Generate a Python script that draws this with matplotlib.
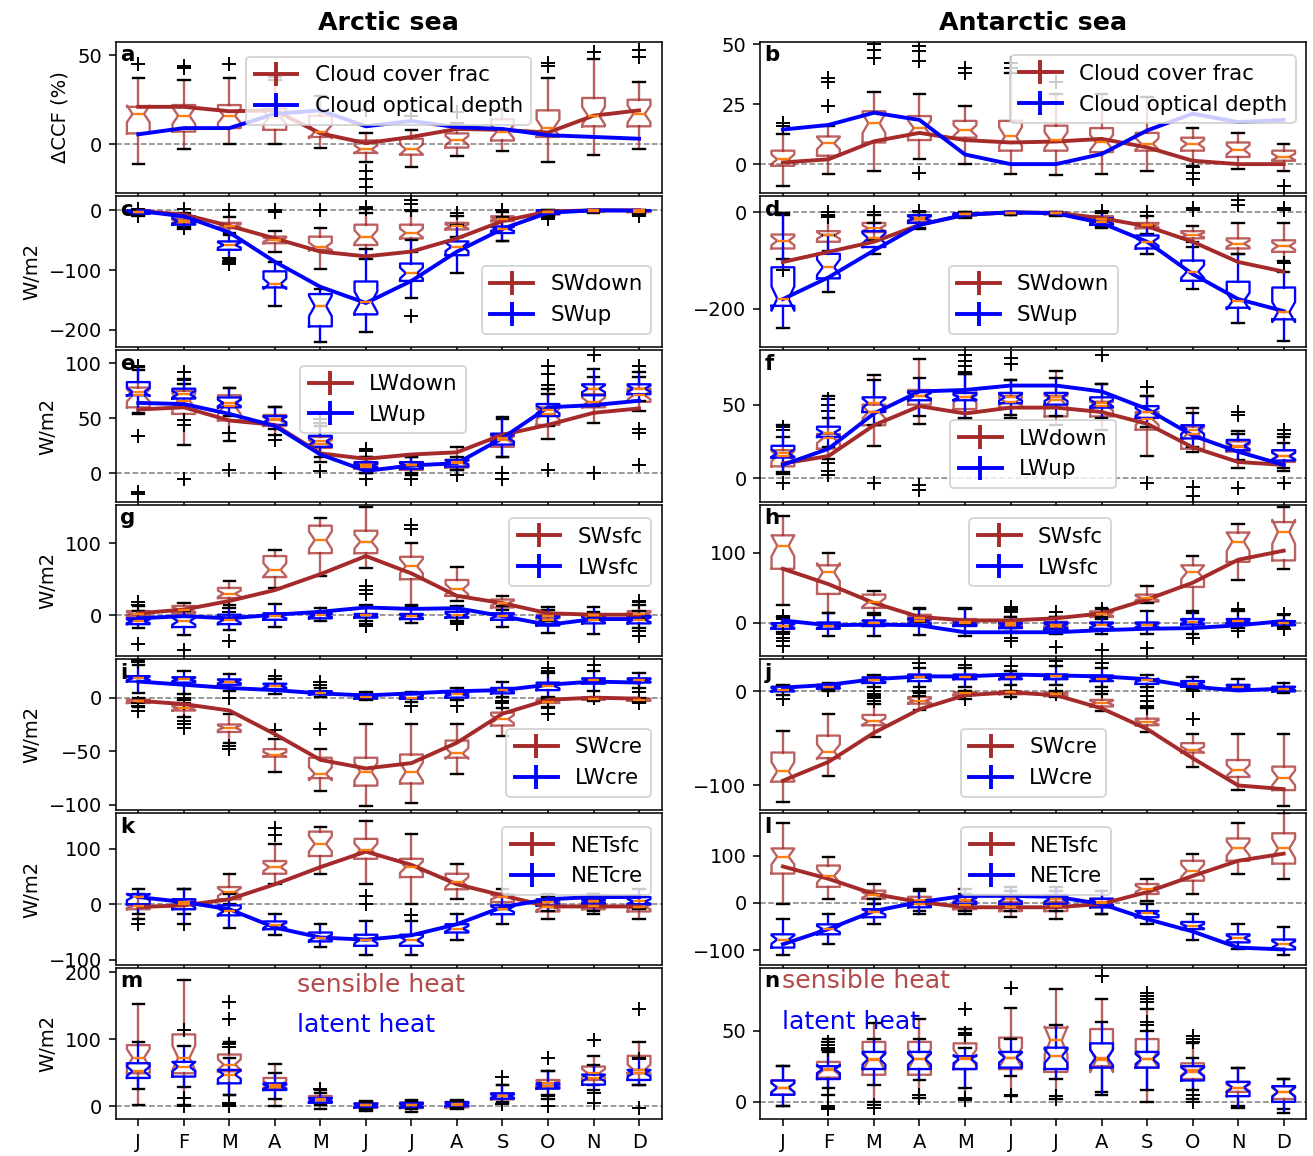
import numpy as np
import matplotlib.pyplot as plt
from matplotlib.lines import Line2D

months = ["J", "F", "M", "A", "M", "J", "J", "A", "S", "O", "N", "D"]
NOTCH_N = 25  # sample size assumed for notch width

# each box: (whisker low, q1, median, q3, whisker high)
a_red_box = [(-11, 6, 17, 21, 37), (-3, 7, 16, 22, 36), (0, 9, 16, 22, 37), (0, 8, 15, 20, 36),
             (-2, 4, 7, 16, 27), (-10, -5, -3, 2, 6), (-13, -6, -3, 3, 8), (-7, -2, 2, 6, 12),
             (-4, 2, 7, 14, 20), (-10, 4, 9, 19, 37), (-6, 10, 16, 26, 48), (-3, 10, 17, 25, 35)]
a_red_fl = [[45], [43, 44], [45], [38], [], [19, -15, -20, -24], [16], [18], [], [46, 44], [52], [53, 49]]
a_red_line = [21, 21, 18.5, 19, 6, 0.5, 4, 8.5, 8, 6.5, 16, 19]
a_blue_line = [5.5, 9, 9, 17, 19, 10, 13, 9.5, 8.5, 5, 4, 3]

b_red_box = [(-9, -0.7, 2, 5.6, 12.6), (-4, 3.5, 8.7, 11.5, 16), (-3, 9, 17, 22, 30), (2, 10, 15, 20, 29),
             (0, 11, 14, 18, 24), (-4, 5.6, 11.5, 18, 38), (-4.5, 5.6, 10, 16, 29), (-4, 5, 9, 15, 29),
             (-3, 5.6, 8.4, 13, 28), (-0.7, 5.6, 8.4, 11, 15), (-2, 3, 6, 9, 13), (-3, 1.4, 3, 5.6, 8.4)]
b_red_fl = [[16, 17], [24, 34, 36], [44, 47.5, 50], [-3.5, 43, 47, 49], [38, 40], [40, 42], [34], [], [],
            [-1.4, -3.5, -6.3], [], [-9]]
b_red_line = [0.7, 2, 9.5, 13, 10, 9, 9.4, 10.5, 7, 1.4, 0, 0]
b_blue_line = [14.4, 16.3, 21.4, 18.4, 4, 0, 0, 4.2, 14, 21, 17.5, 18.4]

c_red_box = [(-8, -4, -2, -1, 0), (-28, -22, -19, -14, -10), (-38, -30, -26, -21, -12), (-69, -55, -49, -44, -35),
             (-98, -66, -61, -44, -30), (-81, -58, -44, -24, -4), (-69, -47, -38, -24, -1), (-44, -32, -27, -21, -10),
             (-52, -18, -14, -10, -2), (-12, -7, -3, 0, 0), (-4, -2, -1, 0, 0), (-6, -3, -2, -1, 0)]
c_red_fl = [[-10, 3], [-30, 2], [-80, -85, 0], [0, -2], [0], [2, 5], [0, 10, 18], [-5], [0], [-15], [], [-10]]
c_blue_box = [(-10, -6, -3, 0, 0), (-32, -24, -18, -10, -4), (-81, -66, -58, -52, -41), (-160, -129, -123, -102, -86),
              (-220, -194, -160, -140, -132), (-203, -174, -153, -119, -64), (-146, -118, -105, -89, -49),
              (-105, -75, -61, -52, -24), (-52, -38, -31, -27, -12), (-10, -6, -2, 0, 0), (-3, -1, 0, 0, 0),
              (-3, -1, 0, 0, 0)]
c_blue_fl = [[], [], [-88, -90], [], [], [], [-176], [], [], [], [], []]
c_red_line = [-1, -7, -26, -47, -69, -77, -69, -47, -18, -2, 0, 0]
c_blue_line = [-1, -10, -37, -86, -128, -155, -118, -69, -31, -4, 0, -0.5]

d_red_box = [(-96, -75, -59, -46, -5), (-81, -61, -48, -39, -8), (-58, -41, -33, -22, -6), (-33, -19, -12, -6, 0),
             (-12, -6, -4, -2, 0), (-6, -3, -1, 0, 0), (-8, -4, -2, -1, 0), (-29, -19, -13, -8, 0),
             (-44, -33, -27, -22, -8), (-72, -54, -47, -39, -29), (-86, -75, -65, -54, -22), (-100, -82, -70, -58, -22)]
d_red_fl = [[-120], [0, -5, -10], [0, -5], [2], [], [], [], [3], [0], [5, 8], [15, 25], [5, 8, -105]]
d_blue_box = [(-240, -194, -179, -114, -1), (-166, -137, -114, -86, -47), (-86, -72, -54, -39, -22),
              (-34, -22, -13, -6, 0), (-10, -6, -4, -2, 0), (-5, -2, -1, 0, 0), (-6, -3, -2, -1, 0),
              (-32, -26, -19, -12, -2), (-86, -75, -61, -48, -29), (-159, -142, -123, -100, -61),
              (-229, -198, -184, -144, -86), (-268, -222, -207, -156, -124)]
d_blue_fl = [[] for _ in months]
d_red_line = [-103, -82, -61, -26, -5, 0, -1, -12, -29, -61, -103, -123]
d_blue_line = [-180, -135, -79, -26, -5, 0, -2, -22, -61, -128, -180, -205]

e_red_box = [(54, 60, 71, 78, 94), (26, 54, 66, 75, 81), (29, 48, 61, 71, 78), (35, 43, 48, 53, 60),
             (10, 23, 27, 33, 43), (0, 4, 6, 9, 15), (-2, 3, 7, 10, 15), (3, 5, 9, 12, 24),
             (15, 24, 30, 35, 49), (31, 44, 54, 60, 77), (46, 60, 65, 72, 88), (57, 65, 71, 77, 88)]
e_red_fl = [[34, -17, -19, 98], [44, 48, 85, 92, -5], [37, 3], [30, 0], [46, 49, 2], [20, 22, -5], [-5], [-2],
            [-5, 0], [98, 90, 80, 3], [108, 0], [98, 40, 37, 7]]
e_blue_box = [(55, 71, 74, 83, 97), (61, 68, 72, 77, 86), (52, 60, 64, 69, 78), (40, 44, 49, 52, 60),
              (15, 24, 29, 34, 43), (0, 5, 7, 10, 15), (0, 4, 7, 10, 15), (3, 6, 10, 12, 15),
              (15, 26, 32, 36, 51), (43, 52, 58, 63, 72), (61, 71, 77, 81, 95), (66, 72, 77, 81, 92)]
e_blue_fl = [[] for _ in months]
e_red_line = [58, 60, 48, 44, 18, 13, 17, 19, 35, 44, 55, 59]
e_blue_line = [64, 63, 54, 43, 17, 2, 7, 9, 32, 60, 62, 66]

f_red_box = [(3, 8, 15, 19, 28), (13, 20, 27, 30, 41), (22, 36, 45, 50, 70), (37, 50, 56, 60, 81),
             (40, 47, 55, 58, 71), (41, 48, 52, 56, 67), (36, 42, 53, 56, 73), (33, 42, 49, 52, 64),
             (15, 33, 40, 45, 56), (18, 20, 30, 35, 48), (7, 18, 21, 25, 32), (5, 11, 15, 19, 28)]
f_red_fl = [[35, 33, -3], [54, 50, 46, 10, 5, 2], [-3], [-5, -8], [84, 80, 76, 72], [82, 78], [], [84],
            [62, -3], [-6, -12], [45, 43, -7], [33, 30, -3]]
f_blue_box = [(4, 14, 17, 22, 36), (21, 28, 31, 35, 56), (36, 45, 51, 55, 67), (42, 53, 56, 59, 68),
              (41, 53, 55, 58, 71), (43, 51, 55, 58, 67), (42, 50, 55, 58, 68), (41, 48, 51, 55, 64),
              (35, 41, 45, 49, 56), (21, 27, 33, 36, 44), (12, 19, 22, 26, 30), (7, 12, 15, 19, 24)]
f_blue_fl = [[] for _ in months]
f_red_line = [10, 15, 36, 49, 44, 48, 48, 45, 37, 21, 11, 9]
f_blue_line = [9, 20, 44, 59, 60, 63, 63, 59, 47, 29, 18, 9]

g_red_box = [(-6, -1, 2, 6, 13), (-1, 3, 8, 13, 17), (15, 24, 30, 38, 48), (38, 53, 63, 82, 91),
             (54, 86, 104, 124, 134), (65, 86, 102, 117, 150), (15, 50, 68, 81, 100), (20, 27, 36, 49, 67),
             (8, 11, 17, 22, 27), (-8, -4, -1, 1, 8), (-3, -1, 0, 1, 5), (-4, -1, 2, 6, 15)]
g_red_fl = [[15, 18], [], [10, 5], [], [], [40, 35, 30], [125, 120], [], [], [], [], [20, 18]]
g_blue_box = [(-18, -12, -8, -4, 6), (-27, -16, -8, -1, 6), (-20, -12, -6, 1, 10), (-16, -6, -1, 3, 16),
              (-8, -4, 0, 3, 10), (-8, -3, 0, 2, 15), (-11, -5, -1, 2, 13), (-8, -3, 0, 5, 13),
              (-16, -6, -1, 3, 13), (-24, -14, -6, -1, 11), (-26, -11, -6, 1, 11), (-18, -11, -6, -1, 6)]
g_blue_fl = [[-40], [-48], [-35], [], [], [-12, -15], [], [-10, -12], [], [], [], [-22, -28]]
g_red_line = [3, 8, 20, 35, 57, 82, 58, 27, 17, 3, 1, 1]
g_blue_line = [-4, -1, -4, 1, 5, 11, 9, 10, -1, -13, -5, -5]

h_red_box = [(25, 77, 110, 125, 153), (13, 41, 72, 82, 100), (13, 21, 29, 40, 45), (1, 3, 7, 11, 21),
             (-4, -3, 1, 5, 21), (-8, -5, -1, 2, 8), (-9, -6, -3, 1, 8), (5, 8, 12, 16, 21),
             (28, 30, 35, 40, 52), (13, 51, 72, 82, 95), (61, 87, 116, 129, 141), (77, 89, 130, 144, 165)]
h_red_fl = [[10, 5], [], [], [], [], [20, 22, 18], [], [20], [], [], [], []]
h_blue_box = [(-14, -9, -5, -1, 8), (-19, -9, -5, 0, 13), (-19, -5, 0, 3, 11), (-18, -3, 2, 6, 20),
              (-19, -5, -1, 2, 20), (-14, -8, -4, 0, 8), (-16, -10, -5, 0, 8), (-16, -9, -4, 0, 8),
              (-16, -8, -4, 0, 16), (-16, -3, 1, 5, 16), (-8, -1, 2, 5, 16), (-6, -4, -1, 2, 11)]
h_blue_fl = [[-17, -22, -27, -33, 10], [], [], [], [], [-22, -27, 15, 17], [-35, 15], [-40], [-36], [-22],
             [-12, 20], [-10, 12]]
h_red_line = [77, 55, 28, 8, 3, 3, 6, 13, 33, 57, 90, 103]
h_blue_line = [3, -4, -3, -4, -14, -14, -14, -11, -9, -8, -4, 2]

i_red_box = [(-9, -5, -3, -2, 0), (-18, -12, -10, -7, -2), (-42, -32, -28, -25, -15), (-69, -55, -53, -48, -39),
             (-87, -75, -71, -56, -48), (-101, -82, -69, -56, -25), (-98, -80, -69, -53, -25),
             (-71, -56, -52, -40, -25), (-36, -26, -20, -14, -10), (-9, -5, -4, -2, -1), (-3, -2, -1, 0, 0),
             (-4, -3, -2, -1, 0)]
i_red_fl = [[-12], [-22, -25, -28], [-45, -48], [-30], [-29], [], [], [], [], [], [], []]
i_blue_box = [(4, 15, 18, 20, 30), (3, 14, 17, 19, 25), (6, 12, 15, 17, 22), (3, 8, 11, 13, 17),
              (1, 3, 4, 6, 9), (-2, -1, 1, 3, 5), (-4, -1, 0, 3, 5), (-2, 0, 3, 4, 9),
              (1, 4, 7, 9, 15), (1, 7, 11, 14, 23), (6, 13, 16, 18, 25), (9, 14, 16, 18, 23)]
i_blue_fl = [[35, 33, -5, -8], [0, -5], [0], [20], [12, 15], [], [-8], [-8], [-3, -5], [28, 25, -10, -15],
             [30, 0], [5, 0, -5]]
i_red_line = [-3, -6, -12, -34, -58, -66, -61, -42, -15, -2, 0, -1]
i_blue_line = [15, 12, 9, 7, 4, 2, 4, 6, 7, 12, 15, 14]

j_red_box = [(-118, -96, -85, -65, -42), (-90, -71, -64, -47, -24), (-48, -36, -32, -25, -13),
             (-20, -13, -10, -6, -2), (-8, -4, -2, -1, 0), (-6, -3, -1, 0, 0), (-6, -5, -3, -1, 0),
             (-21, -16, -12, -9, -3), (-43, -36, -33, -29, -18), (-80, -65, -62, -55, -45),
             (-105, -91, -84, -73, -45), (-122, -105, -92, -80, -45)]
j_red_fl = [[], [], [-5, -10], [], [], [], [], [], [-5, -10, -15, -18], [-29], [], []]
j_blue_box = [(-4, 0, 2, 5, 7), (0, 3, 5, 7, 9), (5, 9, 12, 15, 18), (5, 11, 15, 18, 25),
              (5, 13, 15, 18, 25), (7, 13, 15, 18, 22), (7, 13, 16, 18, 27), (5, 11, 13, 17, 25),
              (5, 8, 12, 13, 18), (3, 5, 8, 11, 15), (2, 3, 5, 7, 13), (-2, 0, 3, 5, 9)]
j_blue_fl = [[-8], [2], [0, -3, -7, -10], [30, 0, -5], [28, -5, -8], [27, 0, -2], [32, -3], [30, 0], [0], [0],
             [], []]
j_red_line = [-95, -75, -44, -19, -4, -1, -4, -18, -40, -71, -100, -104]
j_blue_line = [4, 7, 13, 16, 16, 18, 17, 16, 13, 5, 1, 3]

k_red_box = [(-27, -9, -4, 0, 18), (-18, 0, 4, 9, 27), (0, 9, 22, 31, 55), (36, 55, 67, 78, 109),
             (55, 87, 109, 131, 140), (36, 82, 98, 118, 151), (0, 49, 67, 82, 127), (9, 27, 40, 55, 73),
             (-9, 4, 13, 18, 27), (-27, -13, -5, 4, 13), (-18, -9, -4, 4, 18), (-27, -13, -5, 0, 13)]
k_red_fl = [[-35], [-35], [-10], [125, 138], [], [15, 0], [-20], [], [], [], [], []]
k_blue_box = [(-18, 0, 13, 18, 27), (-36, -9, 0, 9, 27), (-42, -20, -13, -2, 18), (-55, -45, -38, -31, -18),
              (-78, -67, -60, -51, -36), (-91, -75, -64, -55, -31), (-91, -75, -65, -55, -31),
              (-64, -51, -44, -36, -18), (-36, -18, -9, -2, 18), (-13, -2, 4, 9, 18), (-13, 0, 5, 9, 18),
              (-9, 0, 5, 13, 27)]
k_blue_fl = [[] for _ in months]
k_red_line = [-5, -2, 9, 36, 67, 95, 71, 36, 16, -4, -4, -4]
k_blue_line = [13, 4, -9, -42, -60, -64, -56, -36, -5, 9, 13, 13]

l_red_box = [(-2, 62, 98, 115, 168), (9, 34, 57, 79, 98), (-2, 9, 17, 26, 40), (-17, -2, 6, 13, 30),
             (-23, -13, -4, 4, 19), (-30, -17, -9, 2, 26), (-34, -17, -6, 2, 26), (-23, -9, 0, 9, 26),
             (4, 19, 30, 40, 51), (19, 47, 68, 89, 104), (62, 89, 115, 136, 168), (51, 83, 115, 147, 189)]
l_red_fl = [[] for _ in months]
l_blue_box = [(-109, -94, -77, -66, -34), (-87, -66, -55, -45, -23), (-45, -30, -19, -13, 9),
              (-23, -9, -2, 4, 26), (-17, -2, 6, 13, 30), (-17, -2, 9, 17, 34), (-17, -2, 9, 17, 34),
              (-23, -9, 2, 9, 26), (-45, -30, -21, -17, -2), (-77, -55, -49, -40, -23),
              (-98, -83, -74, -66, -45), (-109, -98, -87, -77, -51)]
l_blue_fl = [[] for _ in months]
l_red_line = [77, 51, 19, 2, -9, -9, -9, -2, 23, 57, 89, 104]
l_blue_line = [-87, -55, -17, 2, 15, 15, 13, -2, -34, -60, -94, -98]

m_red_box = [(2, 49, 72, 91, 152), (1, 49, 72, 107, 188), (16, 52, 62, 77, 95), (0, 26, 32, 42, 63),
             (-4, 5, 10, 15, 24), (-7, -2, 1, 4, 7), (-9, -3, 1, 5, 9), (-4, -2, 2, 6, 9),
             (4, 10, 15, 19, 32), (11, 29, 34, 39, 52), (31, 39, 49, 59, 75), (32, 49, 54, 75, 95)]
m_red_fl = [[], [114], [155, 130, 92, 88, 5, 0, 3], [], [26], [], [], [], [44, 3], [72, 15, 0], [98, 20, 5],
            [145, 70, -3]]
m_blue_box = [(26, 42, 52, 64, 95), (29, 44, 59, 66, 90), (16, 34, 47, 54, 72), (11, 24, 29, 34, 49),
              (1, 5, 9, 12, 19), (-4, -2, 1, 4, 6), (-4, -2, 1, 5, 7), (-3, 0, 3, 6, 8),
              (6, 11, 15, 19, 31), (16, 26, 30, 34, 52), (24, 32, 42, 47, 62), (31, 39, 49, 54, 72)]
m_blue_fl = [[], [12, 0], [3, 0], [], [], [], [], [], [], [], [], []]

n_red_box = [(-3, 5, 10, 15, 25), (5, 17, 22, 28, 44), (0, 19, 29, 42, 55), (3, 19, 30, 42, 58),
             (2, 23, 31, 41, 51), (4, 23, 31, 45, 66), (2, 21, 43, 52, 79), (7, 25, 29, 51, 72),
             (0, 24, 30, 44, 65), (2, 16, 22, 27, 41), (-3, 7, 10, 14, 24), (-5, 2, 7, 11, 16)]
n_red_fl = [[], [-3, -5, 40, 38], [-4], [], [65], [80], [], [88], [76, 74, 72, 70], [], [], []]
n_blue_box = [(-3, 5, 10, 15, 25), (10, 16, 23, 25, 35), (12, 23, 30, 35, 44), (15, 23, 30, 35, 44),
              (10, 23, 30, 32, 38), (18, 24, 31, 35, 44), (16, 23, 32, 38, 54), (5, 24, 31, 41, 56),
              (8, 24, 30, 35, 50), (8, 15, 21, 25, 31), (-4, 4, 10, 14, 24), (-8, 0, 7, 11, 16)]
n_blue_fl = [[], [42, 36, 5, -4], [-2], [5, 3], [48, 47, 3, 1], [5, 4], [4, 2], [], [56, 54],
             [46, 44, 42, 5, 0], [], []]

RED = "brown"
BLUE = "blue"

# letter, red boxes, red fliers, blue boxes, blue fliers, red line, blue line, legend labels,
# ylim, yticks, legend placement
panels = [
    ("a", a_red_box, a_red_fl, None, None, a_red_line, a_blue_line, ("Cloud cover frac", "Cloud optical depth"),
     (-27.6, 57.8), [0, 50], ("upper center", (0.5, 0.97))),
    ("b", b_red_box, b_red_fl, None, None, b_red_line, b_blue_line, ("Cloud cover frac", "Cloud optical depth"),
     (-12, 51), [0, 25, 50], ("upper right", (1.0, 0.98))),
    ("c", c_red_box, c_red_fl, c_blue_box, c_blue_fl, c_red_line, c_blue_line, ("SWdown", "SWup"),
     (-229, 24), [-200, -100, 0], ("lower right", (1.0, 0.02))),
    ("d", d_red_box, d_red_fl, d_blue_box, d_blue_fl, d_red_line, d_blue_line, ("SWdown", "SWup"),
     (-280, 34), [-200, 0], ("lower center", (0.5, 0.02))),
    ("e", e_red_box, e_red_fl, e_blue_box, e_blue_fl, e_red_line, e_blue_line, ("LWdown", "LWup"),
     (-26, 112), [0, 50, 100], ("upper center", (0.49, 0.97))),
    ("f", f_red_box, f_red_fl, f_blue_box, f_blue_fl, f_red_line, f_blue_line, ("LWdown", "LWup"),
     (-16, 87), [0, 50], ("lower center", (0.5, 0.02))),
    ("g", g_red_box, g_red_fl, g_blue_box, g_blue_fl, g_red_line, g_blue_line, ("SWsfc", "LWsfc"),
     (-56, 153), [0, 100], ("upper right", (1.0, 0.98))),
    ("h", h_red_box, h_red_fl, h_blue_box, h_blue_fl, h_red_line, h_blue_line, ("SWsfc", "LWsfc"),
     (-48, 169), [0, 100], ("upper center", (0.513, 0.98))),
    ("i", i_red_box, i_red_fl, i_blue_box, i_blue_fl, i_red_line, i_blue_line, ("SWcre", "LWcre"),
     (-105, 36), [-100, -50, 0], ("lower right", (1.0, 0.02))),
    ("j", j_red_box, j_red_fl, j_blue_box, j_blue_fl, j_red_line, j_blue_line, ("SWcre", "LWcre"),
     (-126.5, 34.5), [-100, 0], ("lower center", (0.5, 0.02))),
    ("k", k_red_box, k_red_fl, k_blue_box, k_blue_fl, k_red_line, k_blue_line, ("NETsfc", "NETcre"),
     (-109, 164), [-100, 0, 100], ("upper right", (1.0, 0.98))),
    ("l", l_red_box, l_red_fl, l_blue_box, l_blue_fl, l_red_line, l_blue_line, ("NETsfc", "NETcre"),
     (-130, 189), [-100, 0, 100], ("upper center", (0.505, 0.98))),
    ("m", m_red_box, m_red_fl, m_blue_box, m_blue_fl, None, None, None,
     (-19.3, 206.6), [0, 100, 200], None),
    ("n", n_red_box, n_red_fl, n_blue_box, n_blue_fl, None, None, None,
     (-12, 94), [0, 50], None),
]

heat_text = {"m": ((0.333, 0.887), (0.333, 0.623)), "n": ((0.04, 0.914), (0.04, 0.642))}


def draw_boxes(ax, boxes, fliers, color, alpha):
    stats = []
    for (lo, q1, med, q3, hi), fl in zip(boxes, fliers):
        half = 1.57 * (q3 - q1) / np.sqrt(NOTCH_N)
        stats.append(dict(whislo=lo, q1=q1, med=med, q3=q3, whishi=hi, fliers=fl,
                          cilo=med - half, cihi=med + half))
    ax.bxp(stats, positions=range(1, 13), widths=0.5, shownotches=True, manage_ticks=False,
           boxprops=dict(color=color, alpha=alpha, lw=1.2),
           whiskerprops=dict(color=color, alpha=alpha, lw=1.2),
           capprops=dict(color="k", lw=1.2),
           medianprops=dict(color="#ff7f0e", lw=1.2),
           flierprops=dict(marker="+", markeredgecolor="k", markersize=7.5, linestyle="none"))


fig, axes = plt.subplots(7, 2, sharex=True, figsize=(1313 / 140, 1156 / 140), dpi=140)
fig.subplots_adjust(left=0.088, right=0.995, top=0.964, bottom=0.032, hspace=0.02, wspace=0.18)

x = np.arange(1, 13)
for idx, (letter, rbox, rfl, bbox, bfl, rline, bline, labels, ylim, yticks, leg) in enumerate(panels):
    ax = axes[idx // 2, idx % 2]
    ax.axhline(0, color="gray", lw=0.8, ls="--", zorder=0)
    draw_boxes(ax, rbox, rfl, RED, 0.75)
    if bbox is not None:
        draw_boxes(ax, bbox, bfl, BLUE, 1.0)
    if rline is not None:
        ax.plot(x, rline, color=RED, lw=2)
        ax.plot(x, bline, color=BLUE, lw=2)
    if labels is not None:
        handles = [Line2D([], [], color=RED, lw=2, marker="|", markersize=12, mew=2),
                   Line2D([], [], color=BLUE, lw=2, marker="|", markersize=12, mew=2)]
        ax.legend(handles, labels, loc=leg[0], bbox_to_anchor=leg[1], numpoints=1, fontsize=11)
    if letter in heat_text:
        (sx, sy), (lx, ly) = heat_text[letter]
        ax.text(sx, sy, "sensible heat", color=RED, alpha=0.85, transform=ax.transAxes,
                va="center", ha="left", fontsize=13)
        ax.text(lx, ly, "latent heat", color=BLUE, transform=ax.transAxes,
                va="center", ha="left", fontsize=13)
    ax.text(0.008, 0.975, letter, transform=ax.transAxes, fontweight="bold", va="top", ha="left",
            fontsize=11)
    ax.set_ylim(*ylim)
    ax.set_yticks(yticks)
    if idx % 2 == 0:
        ax.set_ylabel("ΔCCF (%)" if letter == "a" else "W/m2")

axes[0, 0].set_xlim(0.5, 12.5)
axes[0, 0].set_xticks(x)
axes[-1, 0].set_xticklabels(months)
axes[-1, 1].set_xticklabels(months)
axes[0, 0].set_title("Arctic sea", fontweight="bold", fontsize=13)
axes[0, 1].set_title("Antarctic sea", fontweight="bold", fontsize=13)

fig.savefig("out.png", dpi=140)
